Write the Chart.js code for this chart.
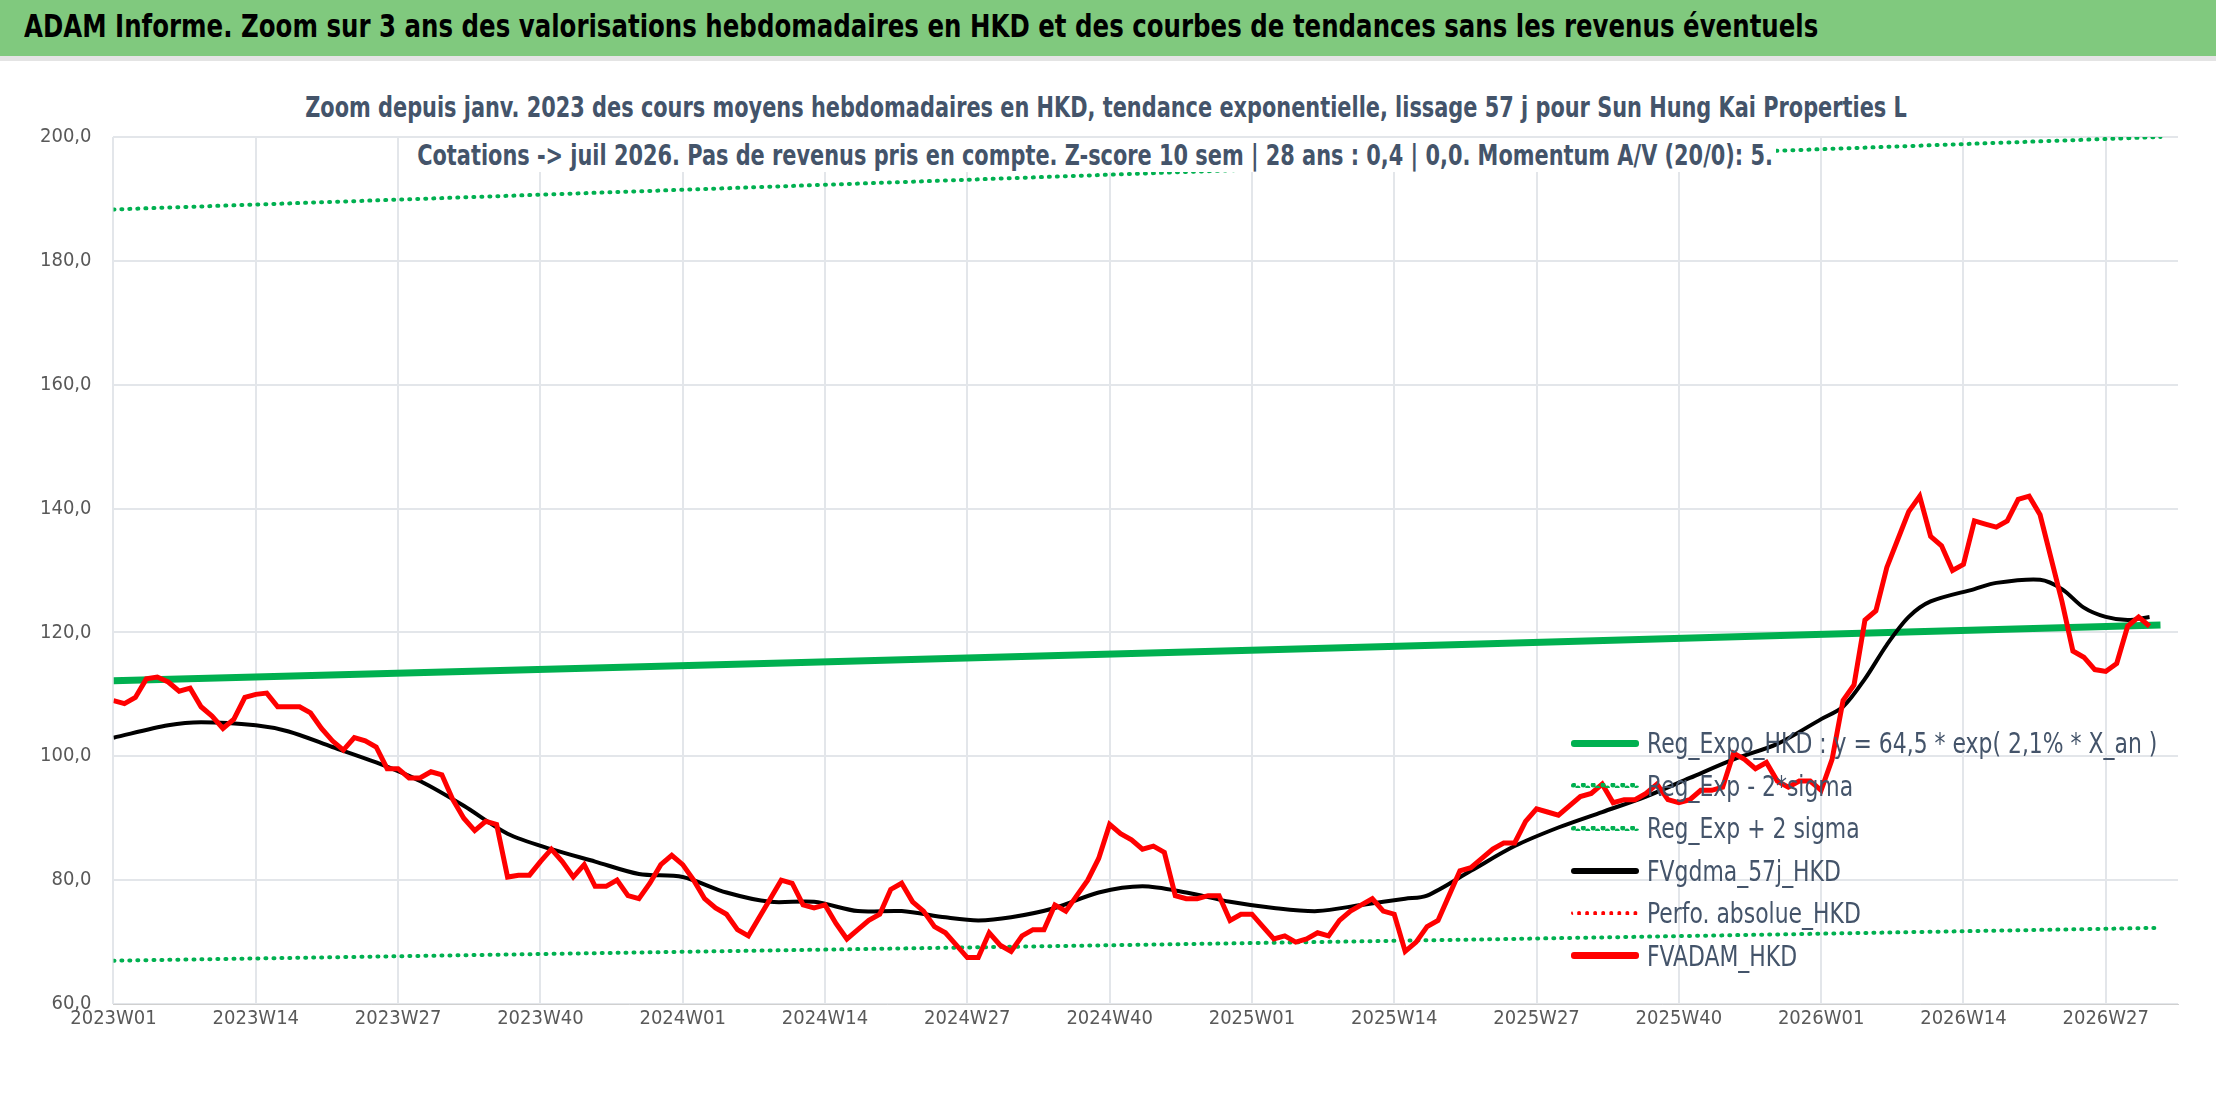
<!DOCTYPE html>
<html>
<head>
<meta charset="utf-8">
<script src="https://cdn.jsdelivr.net/npm/chart.js@4.4.1/dist/chart.umd.min.js"></script>
<style>
  body { margin: 0; width: 2216px; height: 1102px; background: #fff; overflow: hidden;
         font-family: "Liberation Sans Narrow", "DejaVu Sans Condensed", sans-serif; }
  #band { position: absolute; left: 0; top: 0; width: 2216px; height: 56px; background: #80c97e;
          border-bottom: 5px solid #e4e4e4; }
  #band span { position: absolute; left: 24px; top: 7px; font-size: 32px; font-weight: bold; color: #000;
               white-space: nowrap; transform: scaleX(0.85); transform-origin: left; }
  #wrap { position: absolute; left: 0; top: 61px; width: 2216px; height: 1041px; }
  .sub { position: absolute; background: #fff; color: #44546a; font-size: 29px; font-weight: bold;
         white-space: nowrap; padding: 0 4px; transform: scaleX(0.8); transform-origin: left; }
  #legend { position: absolute; left: 1571px; top: 722px; font-size: 29px; color: #44546a; }
  .row { height: 42.5px; display: flex; align-items: center; white-space: nowrap; }
  .row span { display: inline-block; transform: scaleX(0.84); transform-origin: left; }
  .sw { width: 68px; margin-right: 8px; }
</style>
</head>
<body>
<div id="band"><span>ADAM Informe. Zoom sur 3 ans des valorisations hebdomadaires en HKD et des courbes de tendances sans les revenus éventuels</span></div>
<div id="wrap"><canvas id="c" width="2216" height="1041"></canvas></div>
<div class="sub" style="left:302px;top:90px;">Zoom depuis janv. 2023 des cours moyens hebdomadaires en HKD, tendance exponentielle, lissage 57 j pour Sun Hung Kai Properties L</div>
<div class="sub" style="left:414px;top:138px;">Cotations -&gt; juil 2026. Pas de revenus pris en compte. Z-score 10 sem | 28 ans : 0,4 | 0,0. Momentum A/V (20/0): 5.</div>
<div id="legend"></div>
<script>
// Étiquettes de l'axe X (une toutes les 13 semaines)
const tickLabels = ['2023W01', '2023W14', '2023W27', '2023W40', '2024W01', '2024W14', '2024W27',
  '2024W40', '2025W01', '2025W14', '2025W27', '2025W40', '2026W01', '2026W14', '2026W27'];

// FVADAM_HKD, valeur hebdomadaire (semaine 0 = 2023W01)
const adamValues = [109, 108.5, 109.5, 112.5, 112.8, 112, 110.5, 111, 108, 106.5, 104.5, 106, 109.5, 110,
  110.2, 108, 108, 108, 107, 104.5, 102.5, 101, 103, 102.5, 101.5, 98, 98, 96.5, 96.5, 97.5,
  97, 93, 90, 88, 89.5, 89, 80.5, 80.8, 80.8, 83, 85, 83, 80.5, 82.5, 79, 79, 80, 77.5, 77,
  79.5, 82.5, 84, 82.5, 80, 77, 75.5, 74.5, 72, 71, 74, 77, 80, 79.5, 76, 75.5, 76, 73, 70.5,
  72, 73.5, 74.5, 78.5, 79.5, 76.5, 75, 72.5, 71.5, 69.5, 67.5, 67.5, 71.5, 69.5, 68.5, 71,
  72, 72, 76, 75, 77.5, 80, 83.5, 89, 87.5, 86.5, 85, 85.5, 84.5, 77.5, 77, 77, 77.5, 77.5,
  73.5, 74.5, 74.5, 72.5, 70.5, 71, 70, 70.5, 71.5, 71, 73.5, 75, 76, 77, 75, 74.5, 68.5, 70,
  72.5, 73.5, 77.5, 81.5, 82, 83.5, 85, 86, 86, 89.5, 91.5, 91, 90.5, 92, 93.5, 94, 95.5,
  92.5, 93, 93, 94, 95.5, 93, 92.5, 93, 94.5, 94.5, 95, 100.5, 99.5, 98, 99, 96, 95, 96, 96,
  94.5, 99.5, 109, 111.5, 122, 123.5, 130.5, 135, 139.5, 142, 135.5, 134, 130, 131, 138,
  137.5, 137, 138, 141.5, 142, 139, 132, 125, 117, 116, 114, 113.7, 115, 121, 122.5, 121];

// FVgdma_57j_HKD (moyenne lissée), points relevés
const gdmaWeeks = [0, 5, 8, 13, 16, 20, 24, 28, 32, 36, 40, 44, 48, 52, 56, 60, 64, 68, 72, 76, 79, 82,
  86, 90, 94, 98, 102, 106, 110, 114, 118, 120, 124, 128, 132, 136, 140, 144, 148, 152, 156, 158,
  160, 162, 164, 166, 170, 172, 176, 178, 180, 182, 184, 186];
const gdmaValues = [103, 105, 105.5, 105, 104, 101.5, 99, 96, 92, 87.5, 85, 83, 81, 80.5, 78, 76.5,
  76.5, 75, 75, 74, 73.5, 74, 75.5, 78, 79, 78, 76.5, 75.5, 75, 76, 77, 77.5, 81.5, 85.5, 88.5,
  91, 93.5, 96.5, 99.5, 102, 106, 108, 112.5, 118, 122.5, 125, 127, 128, 128.5, 127, 124, 122.5,
  122, 122.5];

// Régression exponentielle et bandes ±2 sigma
const trendWeeks = [0, 62, 124, 187];
const regValues = [112.2, 115.1, 118.1, 121.2];
const lowValues = [67, 68.7, 70.4, 72.3];
const highValues = [188.3, 192.1, 196, 200];

const pts = (xs, ys) => ys.map((y, i) => ({ x: xs[i], y }));
const adamPts = adamValues.map((y, i) => ({ x: i, y }));

const series = [
  { label: 'FVADAM_HKD', data: adamPts, color: '#ff0000', width: 5, dash: [], tension: 0 },
  { label: 'FVgdma_57j_HKD', data: pts(gdmaWeeks, gdmaValues), color: '#000000', width: 4, dash: [], tension: 0.3 },
  { label: 'Reg_Expo_HKD', data: pts(trendWeeks, regValues), color: '#00b050', width: 7, dash: [], tension: 0.3 },
  { label: 'Reg_Exp - 2*sigma', data: pts(trendWeeks, lowValues), color: '#00b050', width: 4, dash: [1, 7], tension: 0.3 },
  { label: 'Reg_Exp + 2 sigma', data: pts(trendWeeks, highValues), color: '#00b050', width: 4, dash: [1, 7], tension: 0.3 }
];

const tickFont = { size: 20, family: 'Liberation Sans Narrow, DejaVu Sans Condensed' };

new Chart(document.getElementById('c'), {
  type: 'line',
  data: {
    datasets: series.map(s => ({
      label: s.label, data: s.data, borderColor: s.color, borderWidth: s.width,
      borderDash: s.dash, borderCapStyle: s.dash.length ? 'round' : 'butt',
      pointRadius: 0, tension: s.tension, fill: false
    }))
  },
  options: {
    responsive: false, animation: false,
    layout: { padding: { top: 76, left: 18, right: 38, bottom: 68 } },
    plugins: { legend: { display: false }, tooltip: { enabled: false } },
    scales: {
      x: {
        type: 'linear', min: 0, max: 188.6,
        afterBuildTicks: axis => { axis.ticks = tickLabels.map((_, i) => ({ value: i * 13 })); },
        ticks: { callback: v => tickLabels[v / 13], color: '#595959', maxRotation: 0, font: tickFont },
        grid: { color: '#e3e6ea', lineWidth: 2, drawTicks: false },
        border: { color: '#d0d0d0' }
      },
      y: {
        min: 60, max: 200,
        ticks: { stepSize: 20, padding: 22, color: '#595959', font: tickFont,
                 callback: v => v.toFixed(1).replace('.', ',') },
        grid: { color: '#e3e6ea', lineWidth: 2, drawTicks: false },
        border: { display: false }
      }
    }
  }
});

// Légende (ordre du graphique d'origine)
const legendItems = [
  ['Reg_Expo_HKD : y = 64,5 * exp( 2,1% *  X_an )', 'solid', '#00b050', 7],
  ['Reg_Exp - 2*sigma', 'dotted', '#00b050', 5],
  ['Reg_Exp + 2 sigma', 'dotted', '#00b050', 5],
  ['FVgdma_57j_HKD', 'solid', '#000000', 6],
  ['Perfo. absolue_HKD', 'dotted', '#ff0000', 4],
  ['FVADAM_HKD', 'solid', '#ff0000', 7]
];
document.getElementById('legend').innerHTML = legendItems.map(([t, st, c, w]) =>
  `<div class="row"><div class="sw" style="border-top:${w}px ${st} ${c};border-radius:3px"></div><span>${t}</span></div>`).join('');
</script>
</body>
</html>
